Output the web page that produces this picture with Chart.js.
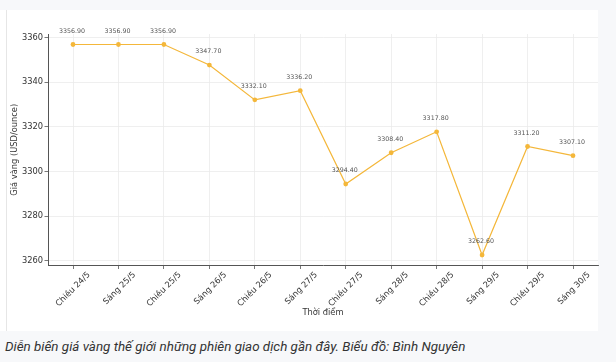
<!DOCTYPE html>
<html>
<head>
<meta charset="utf-8">
<script src="https://cdn.jsdelivr.net/npm/chart.js@4"></script>
<style>
  html, body { margin:0; padding:0; width:616px; height:362px; background:#f7f8fa; overflow:hidden; }
  #box { position:absolute; left:0; top:10px; width:598px; height:321px; background:#ffffff; }
  #vline { position:absolute; left:6px; top:10px; width:1px; height:321px; background:#e6e6e6; }
  #wrap { position:absolute; left:0; top:0; width:616px; height:332px; }
  #cap { position:absolute; left:5px; top:339px; font-family:Roboto, "Open Sans", sans-serif; font-style:italic; font-size:13.4px; color:#333; white-space:nowrap; }
</style>
</head>
<body>
<div id="box"></div>
<div id="vline"></div>
<div id="wrap"><canvas id="c" width="616" height="332"></canvas></div>
<div id="cap">Diễn biến giá vàng thế giới những phiên giao dịch gần đây. Biểu đồ: Bình Nguyên</div>
<script>
const categories = ["Chiều 24/5","Sáng 25/5","Chiều 25/5","Sáng 26/5","Chiều 26/5","Sáng 27/5","Chiều 27/5","Sáng 28/5","Chiều 28/5","Sáng 29/5","Chiều 29/5","Sáng 30/5"];
const prices = [3356.90, 3356.90, 3356.90, 3347.70, 3332.10, 3336.20, 3294.40, 3308.40, 3317.80, 3262.60, 3311.20, 3307.10];
const yTicks = [3260, 3280, 3300, 3320, 3340, 3360];

const FONT = "'DejaVu Sans', sans-serif";
const lineColor = '#f4b73a';

const pointLabels = {
  id: 'pointLabels',
  afterDatasetsDraw(chart) {
    const ctx = chart.ctx;
    const meta = chart.getDatasetMeta(0);
    ctx.save();
    ctx.font = "6.3px " + FONT;
    ctx.fillStyle = '#555555';
    ctx.textAlign = 'center';
    ctx.textBaseline = 'middle';
    meta.data.forEach((pt, i) => {
      ctx.fillText(prices[i].toFixed(2), pt.x - 1, pt.y - 13.5);
    });
    ctx.restore();
  }
};

new Chart(document.getElementById('c'), {
  type: 'line',
  data: {
    datasets: [{
      data: prices.map((v, i) => ({x: i, y: v})),
      borderColor: lineColor,
      backgroundColor: lineColor,
      borderWidth: 1.2,
      pointRadius: 2.4,
      pointHoverRadius: 2.4,
      pointBorderWidth: 0,
      tension: 0,
      fill: false
    }]
  },
  options: {
    responsive: false,
    animation: false,
    events: [],
    layout: { padding: { top: 34, right: 18, left: 0, bottom: 0 } },
    plugins: { legend: { display: false }, tooltip: { enabled: false } },
    scales: {
      x: {
        type: 'linear',
        min: -0.55,
        max: 11.55,
        afterBuildTicks: (s) => { s.ticks = categories.map((c, i) => ({value: i})); },
        afterFit: (s) => { s.height = 66.5; },
        ticks: {
          callback: (v) => categories[v],
          minRotation: 45, maxRotation: 45, autoSkip: false,
          labelOffset: 16,
          padding: 1,
          color: '#333333',
          font: { family: FONT, size: 8.3 }
        },
        grid: { color: '#ebebeb', lineWidth: 0.8, tickColor: '#555555', tickLength: 3.5, drawTicks: true },
        border: { color: '#555555', width: 1 },
        title: { display: true, text: 'Thời điểm', color: '#333333', font: { family: FONT, size: 8.3 }, padding: { top: 14, bottom: 14 } }
      },
      y: {
        min: 3257.9,
        max: 3361.6,
        afterBuildTicks: (s) => { s.ticks = yTicks.map(v => ({value: v})); },
        afterFit: (s) => { s.width = 48; },
        ticks: {
          callback: (v) => String(v),
          color: '#333333',
          padding: 1.5,
          font: { family: FONT, size: 8.3 }
        },
        grid: { color: '#ebebeb', lineWidth: 0.8, tickColor: '#555555', tickLength: 3.5, drawTicks: true },
        border: { color: '#555555', width: 1 },
        title: { display: true, text: 'Giá vàng (USD/ounce)', color: '#333333', font: { family: FONT, size: 8.3 }, padding: { top: 10, bottom: 10 } }
      }
    }
  },
  plugins: [pointLabels]
});
</script>
</body>
</html>
